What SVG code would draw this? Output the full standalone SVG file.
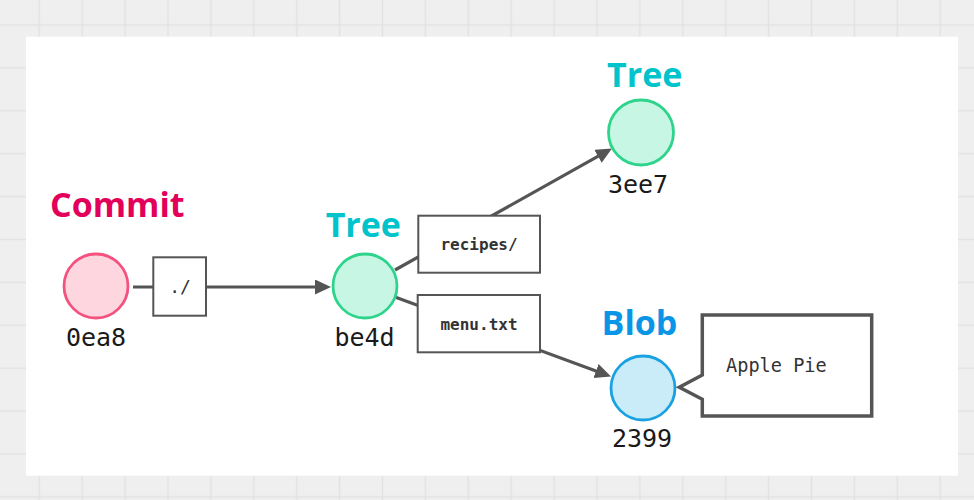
<svg xmlns="http://www.w3.org/2000/svg" width="974" height="500" viewBox="0 0 974 500">
  <style>
    .grid { fill: none; stroke: #e2e2e2; stroke-width: 1.5; }
    .head { font-family: "Open Sans", "Noto Sans", sans-serif; font-weight: 700; font-size: 34px; text-anchor: middle; }
    .hash { font-family: "DejaVu Sans Mono", "Liberation Mono", monospace; font-size: 25px; fill: #1a1a1a; text-anchor: middle; }
    .lbl { font-family: "DejaVu Sans Mono", "Liberation Mono", monospace; font-size: 16px; font-weight: 700; fill: #333; text-anchor: middle; }
    .box { fill: #ffffff; stroke: #555555; stroke-width: 2; }
    .conn { fill: none; stroke: #555555; stroke-width: 3.2; }
    .commit { fill: #fdd6e0; stroke: #f4517e; stroke-width: 2.8; }
    .tree { fill: #c7f6e5; stroke: #2ed48b; stroke-width: 2.8; }
    .blob { fill: #c9ecf8; stroke: #1aa1e2; stroke-width: 2.8; }
  </style>
  <defs>
    <pattern id="gridpat" patternUnits="userSpaceOnUse" x="17.85" y="3.55" width="42.9" height="42.9">
      <path class="grid" d="M21.45,0 V42.9 M0,21.45 H42.9"/>
    </pattern>
    <marker id="arrow" markerUnits="userSpaceOnUse" markerWidth="17" markerHeight="16" refX="8" refY="7.5" orient="auto">
      <path d="M0,0 L16,7.5 L0,15 z" fill="#555555"/>
    </marker>
  </defs>

  <rect x="0" y="0" width="974" height="500" fill="#efefef"/>
  <rect x="0" y="0" width="974" height="500" fill="url(#gridpat)"/>
  <rect x="26" y="36.7" width="932" height="439" fill="#ffffff"/>

  <g id="connectors">
    <line class="conn" x1="133" y1="287" x2="323" y2="287" marker-end="url(#arrow)"/>
    <line class="conn" x1="395" y1="270" x2="605" y2="152.4" marker-end="url(#arrow)"/>
    <line class="conn" x1="395" y1="297" x2="603.5" y2="373.8" marker-end="url(#arrow)"/>
  </g>

  <g id="edge-label-root">
    <rect class="box" x="153.3" y="257.3" width="52.7" height="58.4"/>
    <text class="lbl" x="180" y="293" style="font-weight:400;font-size:18px">./</text>
  </g>
  <g id="edge-label-recipes">
    <rect class="box" x="418.3" y="215.7" width="121.7" height="57"/>
    <text class="lbl" x="479" y="250">recipes/</text>
  </g>
  <g id="edge-label-menu">
    <rect class="box" x="417.7" y="295" width="122.3" height="57.3"/>
    <text class="lbl" x="479" y="330">menu.txt</text>
  </g>

  <g id="node-commit">
    <text class="head" x="117.3" y="217" fill="#e2005a">Commit</text>
    <circle class="commit" cx="96" cy="286" r="32"/>
    <text class="hash" x="96" y="345.7">0ea8</text>
  </g>
  <g id="node-tree-be4d">
    <text class="head" x="363.3" y="236.7" fill="#00c3cb">Tree</text>
    <circle class="tree" cx="365" cy="286" r="32"/>
    <text class="hash" x="364.5" y="345.7">be4d</text>
  </g>
  <g id="node-tree-3ee7">
    <text class="head" x="644.7" y="87.3" fill="#00c3cb">Tree</text>
    <circle class="tree" cx="641" cy="132.5" r="32.5"/>
    <text class="hash" x="638" y="193">3ee7</text>
  </g>
  <g id="node-blob-2399">
    <text class="head" x="639.5" y="335" fill="#0a95e6">Blob</text>
    <circle class="blob" cx="643" cy="388" r="32"/>
    <text class="hash" x="642" y="446.7">2399</text>
  </g>
  <g id="callout-content">
    <polygon points="702.3,315 871.7,315 871.7,416 702.3,416 702.3,399.3 679.3,387.3 702.3,375" fill="#ffffff" stroke="#555555" stroke-width="3.5" stroke-linejoin="miter"/>
    <text x="726" y="372.3" font-family="DejaVu Sans Mono, Liberation Mono, monospace" font-size="18.6" fill="#333">Apple Pie</text>
  </g>
</svg>
